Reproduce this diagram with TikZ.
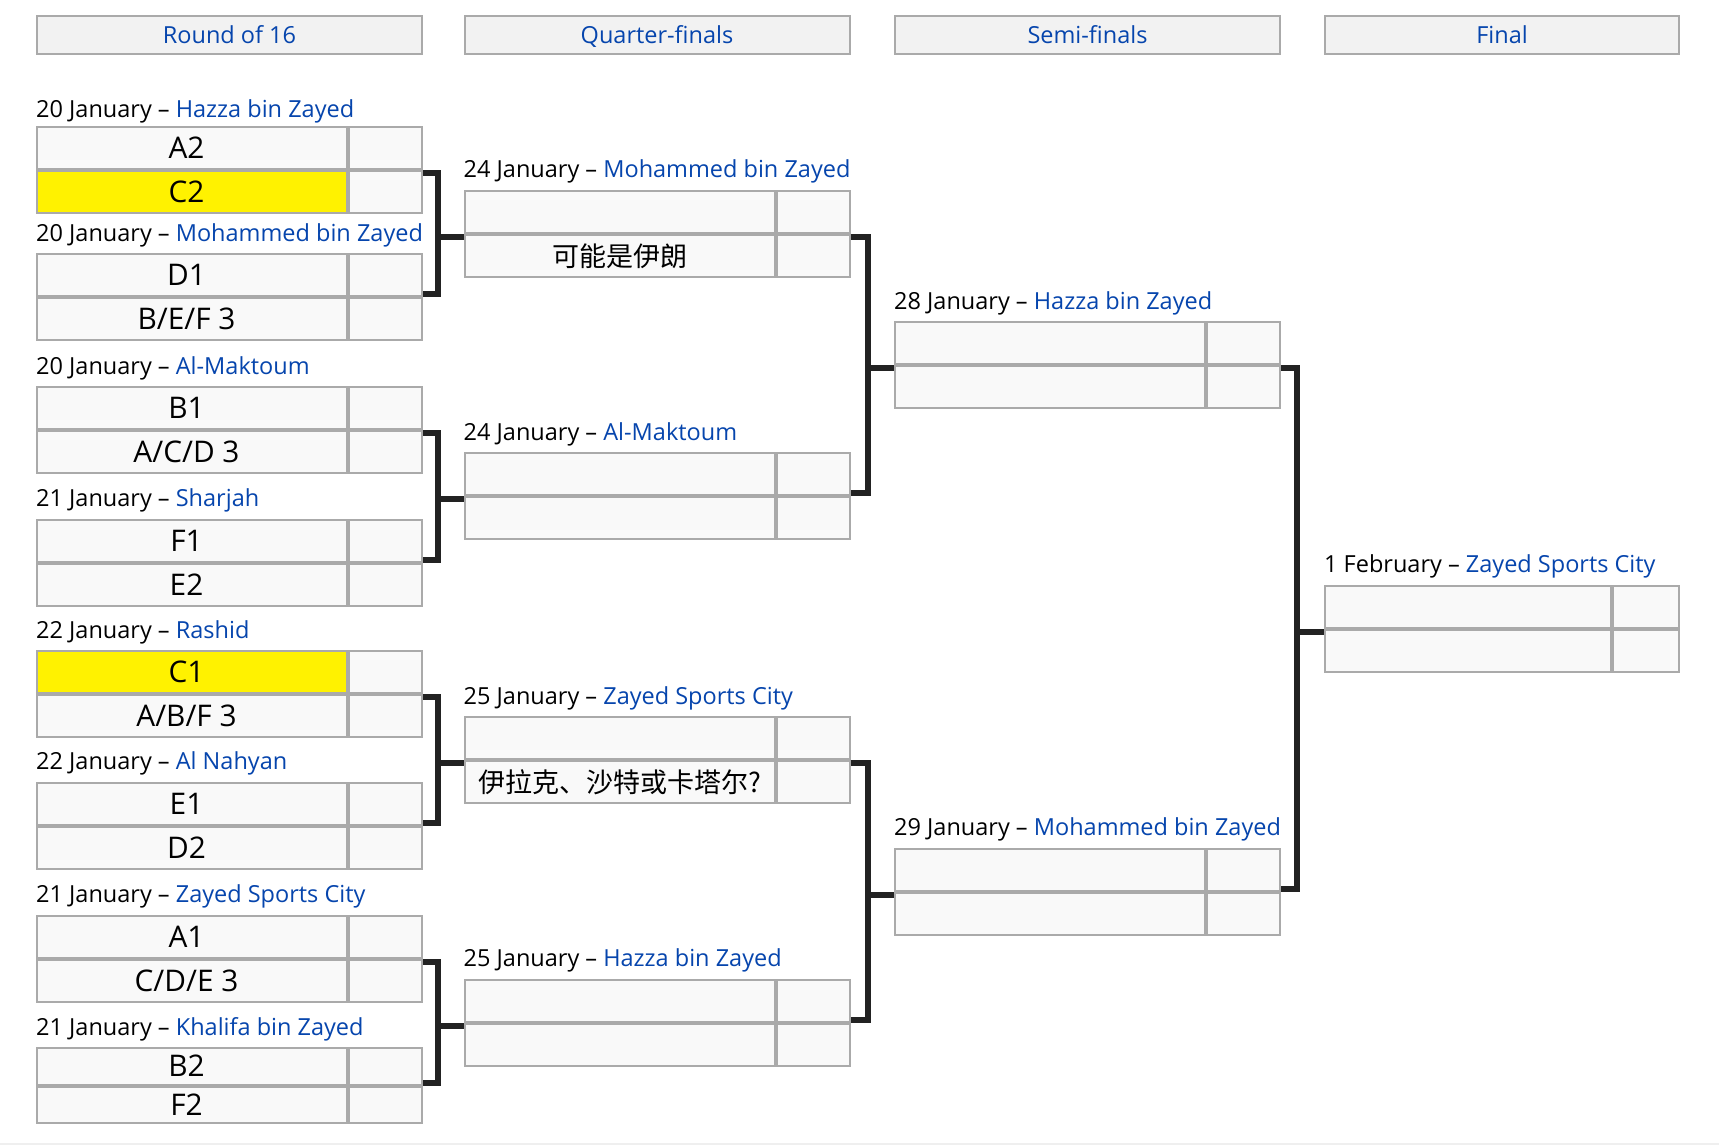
\documentclass[tikz,border=0pt]{standalone}
\usepackage{fontspec}
\setmainfont{Open Sans}
\newfontfamily\cjkfont{Noto Sans CJK SC}
\usetikzlibrary{positioning}

\definecolor{venue}{HTML}{0645AD}
\definecolor{cellfill}{HTML}{F9F9F9}
\definecolor{headfill}{HTML}{F2F2F2}
\definecolor{edge}{HTML}{AAAAAA}
\definecolor{hilite}{HTML}{FFF200}
\definecolor{linkdark}{HTML}{222222}
\definecolor{band}{HTML}{EFEFEF}

\newcommand{\datefont}{\fontsize{23.5pt}{28pt}\selectfont}
\newcommand{\teamfont}{\fontsize{29.8pt}{34pt}\selectfont}
\newcommand{\zhtext}{\cjkfont\fontsize{27pt}{32pt}\selectfont}

\def\teamw{310pt}
\def\scorew{73pt}
\def\rowh{42pt}
\def\labgap{12}

% one match: name, left, top, date, venue, first team, second team, first style, second style
\newcommand{\fixture}[9]{%
  \node[datelabel] (#1d) at (#2,#3-\labgap) {#4 -- \textcolor{venue}{#5}};
  \node[cell,#8,minimum width=\teamw,anchor=north west] (#1t1) at (#2+1,#3+1) {#6};
  \node[cell,minimum width=\scorew,right=2pt of #1t1] (#1s1) {};
  \node[cell,#9,minimum width=\teamw,below=2pt of #1t1] (#1t2) {#7};
  \node[cell,minimum width=\scorew,right=2pt of #1t2] (#1s2) {};
  \coordinate (#1a) at ([xshift=1pt,yshift=-4pt]#1s1.south east);
  \coordinate (#1b) at ([xshift=1pt,yshift=4pt]#1s2.north east);
  \coordinate (#1in) at ([xshift=-1pt,yshift=-4pt]#1t1.south west);
}

\begin{document}
\begin{tikzpicture}[x=1pt, y=-1pt,
    cell/.style = {draw=edge, line width=2pt, fill=cellfill, inner sep=0pt, outer sep=0pt,
      font=\teamfont, text height=21.3pt, text depth=0pt, minimum height=\rowh},
    hl/.style = {fill=hilite},
    lft/.style = {execute at end node={\hspace{11pt}}},
    head/.style = {draw=edge, line width=2pt, fill=headfill, inner sep=0pt, outer sep=0pt,
      font=\datefont, text=venue, text height=17pt, text depth=0pt,
      minimum height=37.4pt, anchor=north west},
    datelabel/.style = {font=\datefont, inner sep=0pt, anchor=base west},
    link/.style = {draw=linkdark, line width=6pt}]
    \useasboundingbox (0,0) rectangle (1719,1145);
    \fill[white] (0,0) rectangle (1719,1145);
    \fill[band] (0,1142.5) rectangle (1719,1145);

    % round headers
    \node[head, minimum width=385pt] (h1) at (37,16.2) {Round of 16};
    \node[head, minimum width=385pt] (h2) at (464.5,16.2) {Quarter-finals};
    \node[head, minimum width=385pt] (h3) at (895,16.2) {Semi-finals};
    \node[head, minimum width=354pt] (h4) at (1325,16.2) {Final};

    % round of 16
    \def\labgap{8.5}
    \fixture{r1}{36}{126.1}{20 January}{Hazza bin Zayed}{A2}{C2}{lft}{lft,hl}
    \def\labgap{12}
    \fixture{r2}{36}{253.3}{20 January}{Mohammed bin Zayed}{D1}{B/E/F 3}{lft}{lft}
    \fixture{r3}{36}{386}{20 January}{Al-Maktoum}{B1}{A/C/D 3}{lft}{lft}
    \fixture{r4}{36}{518.5}{21 January}{Sharjah}{F1}{E2}{lft}{lft}
    \fixture{r5}{36}{650.2}{22 January}{Rashid}{C1}{A/B/F 3}{lft,hl}{lft}
    \fixture{r6}{36}{781.8}{22 January}{Al Nahyan}{E1}{D2}{lft}{lft}
    \fixture{r7}{36}{914.5}{21 January}{Zayed Sports City}{A1}{C/D/E 3}{lft}{lft}
    \def\rowh{36.5pt}
    \fixture{r8}{36}{1047}{21 January}{Khalifa bin Zayed}{B2}{F2}{lft}{lft}
    \def\rowh{42pt}

    % quarter-finals
    \fixture{q1}{463.5}{189.7}{24 January}{Mohammed bin Zayed}{}{\zhtext 可能是伊朗}{}{}
    \fixture{q2}{463.5}{452.3}{24 January}{Al-Maktoum}{}{}{}{}
    \fixture{q3}{463.5}{716}{25 January}{Zayed Sports City}{}{\zhtext 伊拉克、沙特或卡塔尔?}{}{}
    \fixture{q4}{463.5}{978.5}{25 January}{Hazza bin Zayed}{}{}{}{}

    % semi-finals
    \fixture{s1}{894}{321}{28 January}{Hazza bin Zayed}{}{}{}{}
    \fixture{s2}{894}{847.5}{29 January}{Mohammed bin Zayed}{}{}{}{}

    % final
    \def\teamw{286pt}
    \def\scorew{66pt}
    \fixture{f}{1324}{584.5}{1 February}{Zayed Sports City}{}{}{}{}

    % brackets
    \draw[link] (r1a) -- ++(14.5,0) |- (r2b);
    \draw[link] (q1in) -- ++(-26,0);
    \draw[link] (r3a) -- ++(14.5,0) |- (r4b);
    \draw[link] (q2in) -- ++(-26,0);
    \draw[link] (r5a) -- ++(14.5,0) |- (r6b);
    \draw[link] (q3in) -- ++(-26,0);
    \draw[link] (r7a) -- ++(14.5,0) |- (r8b);
    \draw[link] (q4in) -- ++(-26,0);

    \draw[link] (q1a) -- ++(17,0) |- (q2b);
    \draw[link] (s1in) -- ++(-26.5,0);
    \draw[link] (q3a) -- ++(17,0) |- (q4b);
    \draw[link] (s2in) -- ++(-26.5,0);

    \draw[link] (s1a) -- ++(16,0) |- (s2b);
    \draw[link] (fin) -- ++(-27,0);
\end{tikzpicture}
\end{document}
